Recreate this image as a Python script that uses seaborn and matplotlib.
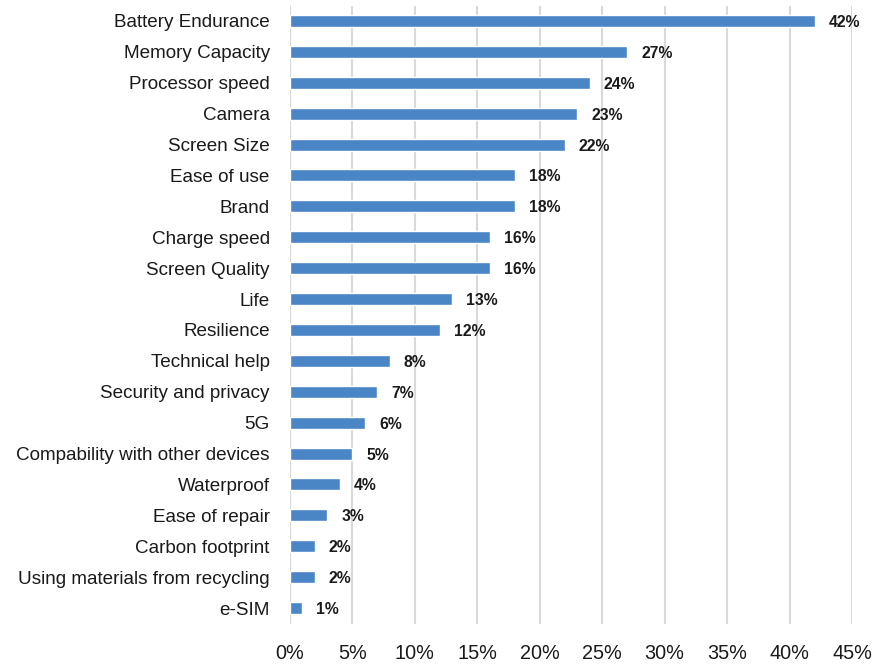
import matplotlib
matplotlib.use("Agg")
import matplotlib.pyplot as plt
import seaborn as sns
import pandas as pd
from matplotlib.ticker import PercentFormatter, MultipleLocator

features = [
    "Battery Endurance", "Memory Capacity", "Processor speed", "Camera",
    "Screen Size", "Ease of use", "Brand", "Charge speed", "Screen Quality",
    "Life", "Resilience", "Technical help", "Security and privacy", "5G",
    "Compability with other devices", "Waterproof", "Ease of repair",
    "Carbon footprint", "Using materials from recycling", "e-SIM",
]
shares = [42, 27, 24, 23, 22, 18, 18, 16, 16, 13, 12, 8, 7, 6, 5, 4, 3, 2, 2, 1]

df = pd.DataFrame({"feature": features, "share": shares})

sns.set_theme(style="white")
plt.rcParams["font.family"] = ["Liberation Sans", "DejaVu Sans"]

fig = plt.figure(figsize=(8.74, 6.65), dpi=100)
ax = fig.add_axes([0.3318, 0.0624, 0.6430, 0.9293])

sns.barplot(data=df, x="share", y="feature", orient="h", color="#4a86c6",
            saturation=1, width=0.39, ax=ax, zorder=3)

for bar, v in zip(ax.patches, shares):
    ax.annotate(f"{v}%", (bar.get_width(), bar.get_y() + bar.get_height() / 2),
                xytext=(14, 0), textcoords="offset pixels",
                va="center_baseline", ha="left", fontsize=11.3, fontweight="bold",
                color="#1a1a1a")

ax.set_xlim(0, 45)
ax.xaxis.set_major_locator(MultipleLocator(5))
ax.xaxis.set_major_formatter(PercentFormatter(decimals=0))
ax.grid(axis="x", color="#d9d9d9", linewidth=1.5, zorder=0)
ax.set_axisbelow(True)
for s in ax.spines.values():
    s.set_visible(False)
ax.set_xlabel("")
ax.set_ylabel("")
ax.tick_params(axis="both", length=0, colors="#1a1a1a")
ax.tick_params(axis="x", pad=14.5, labelsize=14.3)
ax.tick_params(axis="y", pad=14.5, labelsize=13.6)

fig.savefig("out.png", dpi=100)
